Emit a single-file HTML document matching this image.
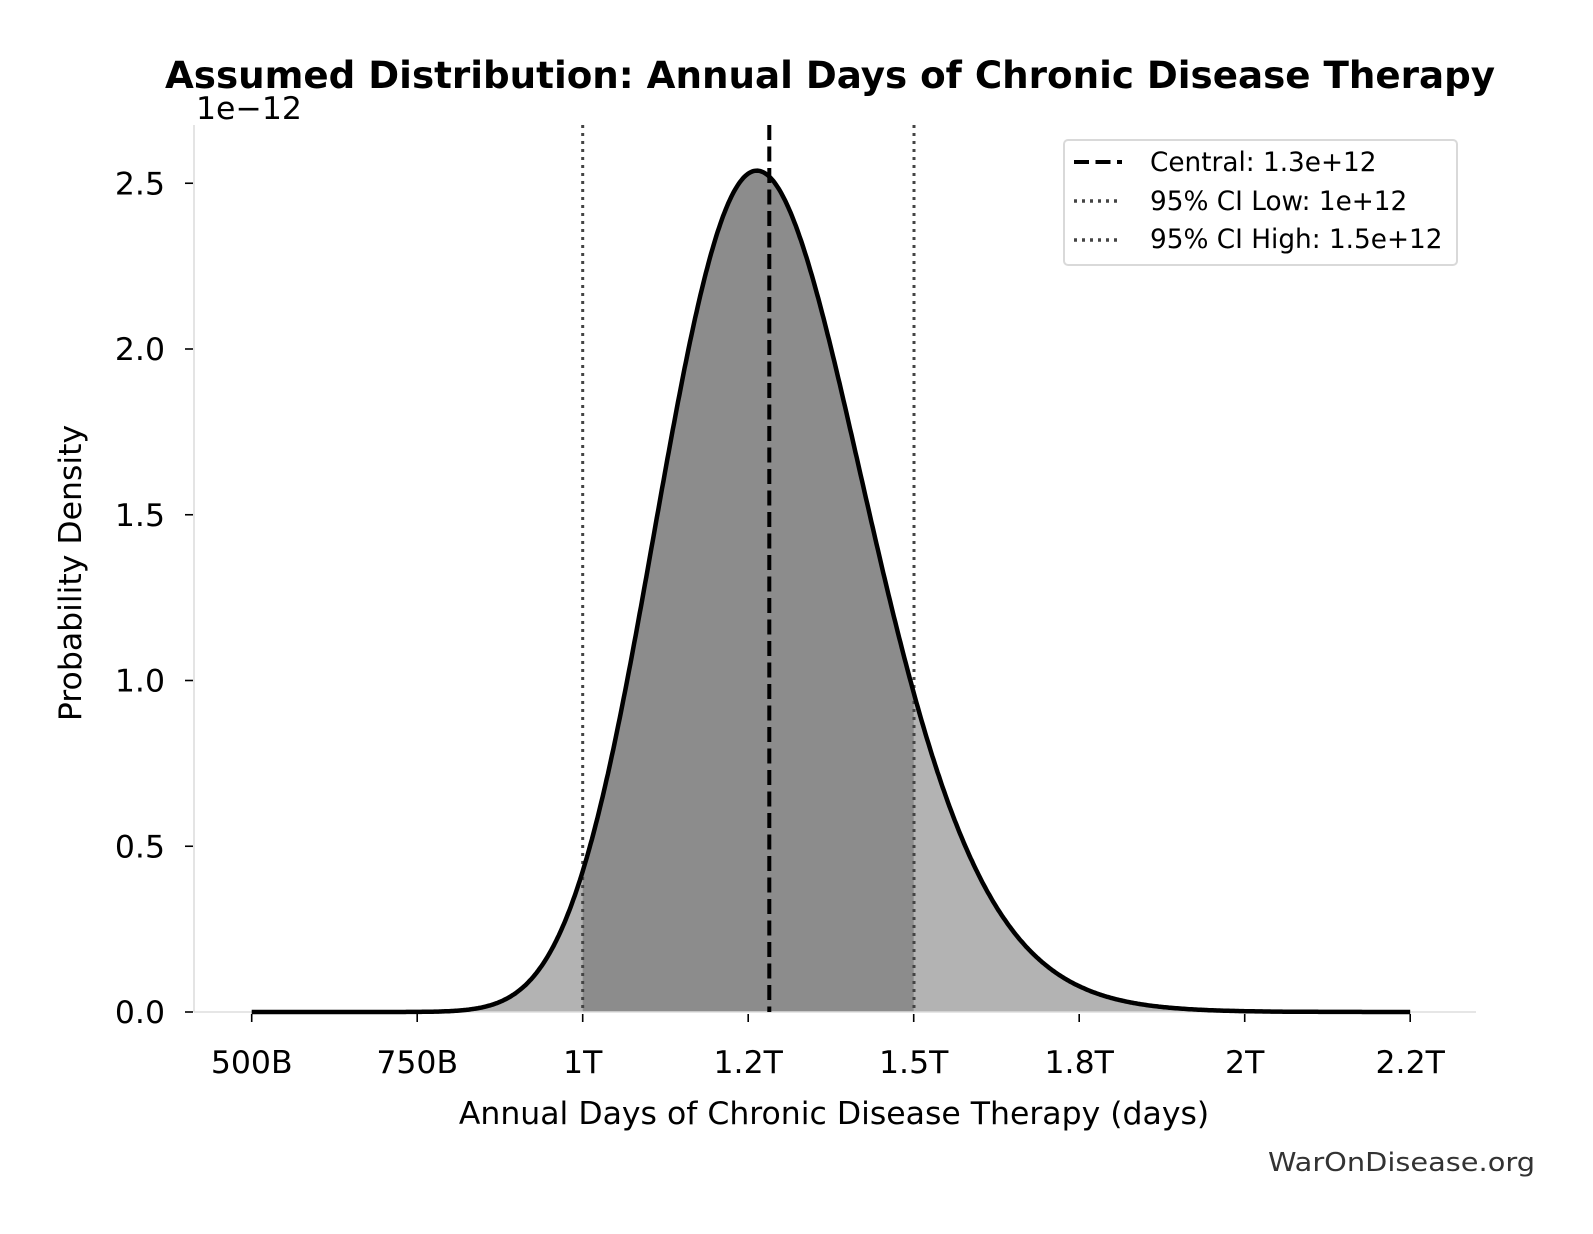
<!DOCTYPE html>
<html><head><meta charset="utf-8"><style>
html,body{margin:0;padding:0;background:#fff;}
svg{display:block;font-family:"DejaVu Sans","Liberation Sans",sans-serif;}
</style></head><body>
<svg id="s" width="1593" height="1234" viewBox="0 0 1593 1234" xmlns="http://www.w3.org/2000/svg">
<rect width="1593" height="1234" fill="#fff"/>
<path id="light" fill="#b3b3b3"/>
<path id="dark" fill="#8c8c8c"/>
<line x1="194" y1="125" x2="194" y2="1012" stroke="#dddddd" stroke-width="1.6"/>
<line x1="194" y1="1012" x2="1476" y2="1012" stroke="#dddddd" stroke-width="1.6"/>
<line x1="582.7" y1="125" x2="582.7" y2="1012" stroke="#444" stroke-width="3" stroke-dasharray="3,5"/>
<line x1="914" y1="125" x2="914" y2="1012" stroke="#444" stroke-width="3" stroke-dasharray="3,5"/>
<path id="curve" fill="none" stroke="#000" stroke-width="4.5"/>
<line x1="769.3" y1="125" x2="769.3" y2="1012" stroke="#000" stroke-width="4" stroke-dasharray="15,6.5"/>
<g id="ticks" stroke="#000" stroke-width="1.6"></g>
<g id="labels" font-size="31.5" fill="#000"></g>
<text x="830" y="88" font-size="37" font-weight="bold" text-anchor="middle" textLength="1330" lengthAdjust="spacingAndGlyphs">Assumed Distribution: Annual Days of Chronic Disease Therapy</text>
<text x="196" y="119" font-size="31.5">1e−12</text>
<text x="834" y="1124" font-size="31.5" text-anchor="middle">Annual Days of Chronic Disease Therapy (days)</text>
<text transform="translate(81,573) rotate(-90)" font-size="31.5" text-anchor="middle">Probability Density</text>
<text x="1535" y="1171" font-size="26" fill="#333" text-anchor="end" textLength="267" lengthAdjust="spacingAndGlyphs">WarOnDisease.org</text>
<rect x="1064" y="140" width="393" height="125" rx="4" fill="#fff" fill-opacity="0.85" stroke="#d9d9d9" stroke-width="2"/>
<line x1="1074" y1="162" x2="1122" y2="162" stroke="#000" stroke-width="4" stroke-dasharray="15,6.5"/>
<line x1="1074" y1="201" x2="1122" y2="201" stroke="#444" stroke-width="3.5" stroke-dasharray="3,5"/>
<line x1="1074" y1="240" x2="1122" y2="240" stroke="#444" stroke-width="3.5" stroke-dasharray="3,5"/>
<g font-size="26.3" fill="#000">
<text x="1150" y="171">Central: 1.3e+12</text>
<text x="1150" y="210">95% CI Low: 1e+12</text>
<text x="1150" y="248">95% CI High: 1.5e+12</text>
</g>
</svg>
<script>
(function(){
var X=function(v){return 251.7+(v-500)*0.662;};
var Y=function(d){return 1012-d*331.5;};
var s=0.1235,mu=0.2488;
function pdf(b){var t=b/1000;var z=(Math.log(t)-mu)/s;return Math.exp(-z*z/2)/(t*s*Math.sqrt(2*Math.PI));}
var pts=[];for(var v=500;v<=2250;v+=2){pts.push([X(v),Y(pdf(v))]);}
var d="M"+pts.map(function(p){return p[0].toFixed(1)+","+p[1].toFixed(1);}).join(" L");
document.getElementById('curve').setAttribute('d',d);
document.getElementById('light').setAttribute('d',d+" L"+X(2250)+",1012 L"+X(500)+",1012 Z");
var dp=[];for(var v=1000;v<=1500;v+=2){dp.push([X(v),Y(pdf(v))]);}
document.getElementById('dark').setAttribute('d',"M"+X(1000)+",1012 L"+dp.map(function(p){return p[0].toFixed(1)+","+p[1].toFixed(1);}).join(" L")+" L"+X(1500)+",1012 Z");
var NS="http://www.w3.org/2000/svg",tg=document.getElementById('ticks'),lg=document.getElementById('labels');
function ln(a,b,c,e){var l=document.createElementNS(NS,'line');l.setAttribute('x1',a);l.setAttribute('y1',b);l.setAttribute('x2',c);l.setAttribute('y2',e);tg.appendChild(l);}
function tx(x,y,t,anc){var e=document.createElementNS(NS,'text');e.setAttribute('x',x);e.setAttribute('y',y);e.setAttribute('text-anchor',anc);e.textContent=t;lg.appendChild(e);}
var xl=["500B","750B","1T","1.2T","1.5T","1.8T","2T","2.2T"];
for(var i=0;i<8;i++){var x=X(500+250*i);ln(x,1014,x,1022);tx(x,1073,xl[i],'middle');}
var yl=["0.0","0.5","1.0","1.5","2.0","2.5"];
for(var j=0;j<6;j++){var y=Y(j*0.5);ln(185,y,193,y);tx(165,y+11,yl[j],'end');}
})();
</script>
</body></html>
